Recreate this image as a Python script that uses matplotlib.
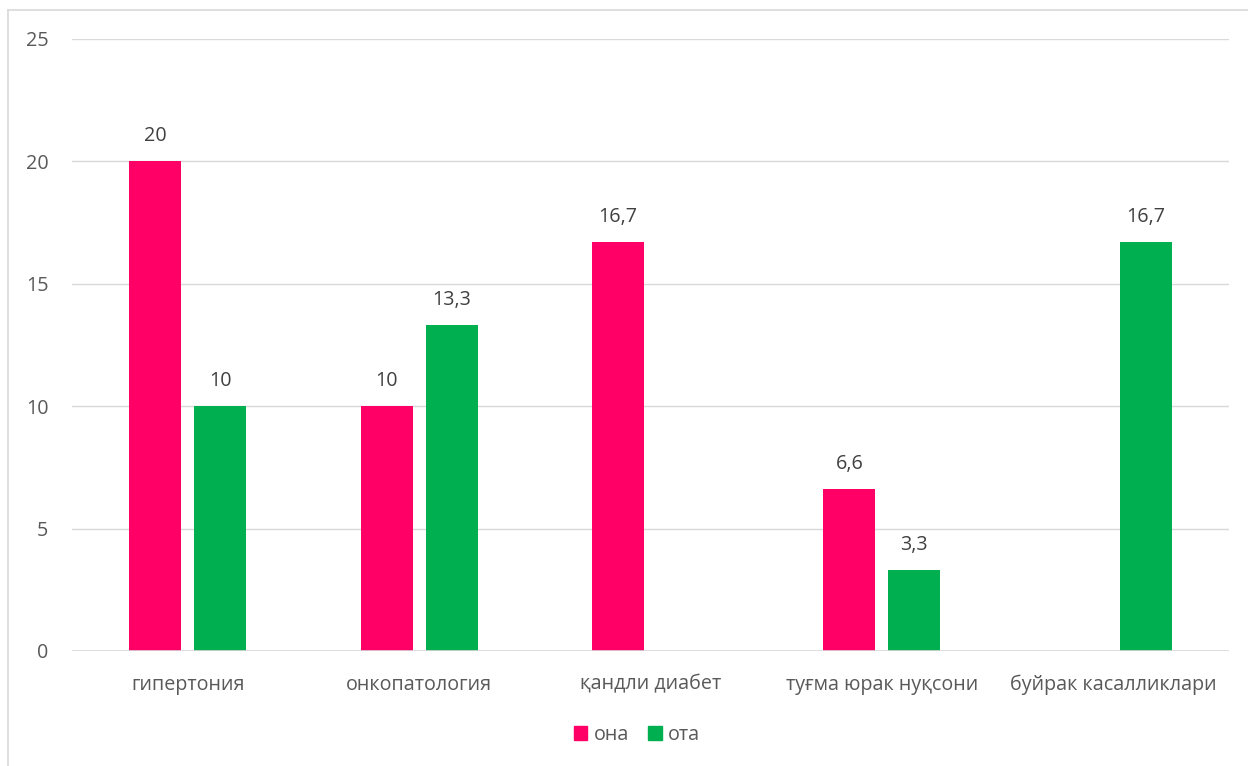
import matplotlib
matplotlib.use("Agg")
import matplotlib.pyplot as plt
from matplotlib.patches import Rectangle
from matplotlib.lines import Line2D
import numpy as np

plt.rcParams['font.family'] = ['Open Sans', 'DejaVu Sans']

categories = ["гипертония", "онкопатология", "қандли диабет", "туғма юрак нуқсони", "буйрак касалликлари"]
ona = [20, 10, 16.7, 6.6, None]
ota = [10, 13.3, None, 3.3, 16.7]
series_names = ["она", "ота"]
colors = ["#FF0066", "#00B050"]
yticks = [0, 5, 10, 15, 20, 25]

text_color = "#595959"
grid_color = "#D9D9D9"
fs = 14.2

W, H = 1248, 766
fig = plt.figure(figsize=(W / 100, H / 100), dpi=100)
ax = fig.add_axes([72 / W, (H - 651) / H, (1229 - 72) / W, (651 - 39) / H])

x = np.arange(len(categories))
width = 0.225
offset = 0.1405


def fmt(v):
    s = f"{v:g}"
    return s.replace(".", ",")


for vals, dx, col in [(ona, -offset, colors[0]), (ota, offset, colors[1])]:
    for xi, v in zip(x, vals):
        if v is None:
            continue
        ax.bar(xi + dx, v, width=width, color=col, zorder=3)
        ax.text(xi + dx, v + 0.62, fmt(v), ha="center", va="bottom",
                fontsize=fs, color="#404040")

ax.set_xlim(-0.5, len(categories) - 0.5)
ax.set_ylim(0, 25)
ax.set_yticks(yticks)
ax.set_yticklabels([str(t) for t in yticks], fontsize=fs, color=text_color)
ax.set_xticks(x)
ax.set_xticklabels(categories, fontsize=fs, color=text_color)
ax.tick_params(axis="both", length=0)
ax.tick_params(axis="y", pad=17)
ax.tick_params(axis="x", pad=17)
ax.grid(axis="y", color=grid_color, linewidth=1, zorder=0)
for s in ax.spines.values():
    s.set_visible(False)
ax.axhline(0, color=grid_color, linewidth=1.2, zorder=4)

# outer chart frame (left and top edges)
fig.add_artist(Line2D([8 / W, 8 / W], [0, (H - 10) / H], color=grid_color, lw=1.2, transform=fig.transFigure))
fig.add_artist(Line2D([8 / W, 1], [(H - 10) / H, (H - 10) / H], color=grid_color, lw=1.2, transform=fig.transFigure))

handles = [Rectangle((0, 0), 1, 1, color=c) for c in colors]
fig.legend(handles, series_names, loc="center", bbox_to_anchor=(637 / W, (H - 735) / H),
           ncol=2, frameon=False, fontsize=fs, labelcolor=text_color,
           handlelength=0.7, handleheight=0.7, handletextpad=0.3, columnspacing=1.0)

fig.savefig("out.png", dpi=100, facecolor="white")
